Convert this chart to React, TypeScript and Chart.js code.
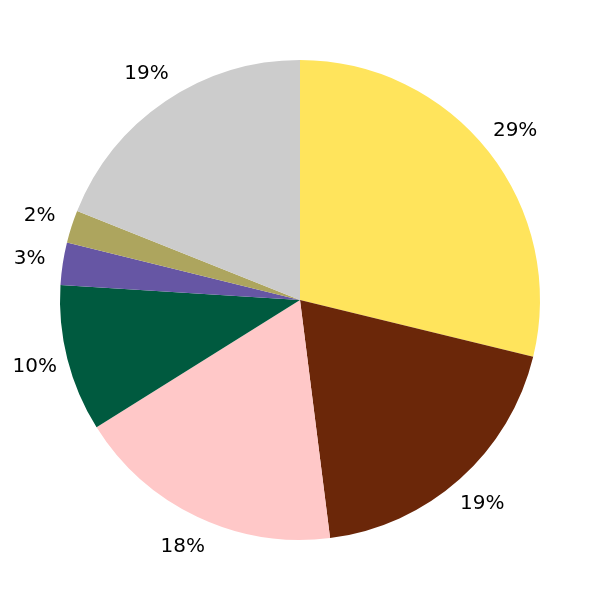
import React, { useEffect, useRef } from "react";
import { Chart, registerables } from "chart.js";

Chart.register(...registerables);

const categories = ["A", "B", "C", "D", "E", "F", "G"];
const values = [28.8, 19.2, 18.1, 9.9, 2.85, 2.2, 18.95];
const percentLabels = ["29%", "19%", "18%", "10%", "3%", "2%", "19%"];
const colors = ["#FFE45C", "#6B2709", "#FFC8C8", "#005A3F", "#6656A4", "#ADA55E", "#CCCCCC"];

const labelPlugin = {
  id: "outerLabels",
  afterDatasetsDraw(chart: any) {
    const ctx = chart.ctx;
    const meta = chart.getDatasetMeta(0);
    ctx.save();
    ctx.font = "20px 'DejaVu Sans'";
    ctx.fillStyle = "#000000";
    ctx.textAlign = "center";
    ctx.textBaseline = "middle";
    meta.data.forEach((arc: any, i: number) => {
      const mid = (arc.startAngle + arc.endAngle) / 2;
      const r = arc.outerRadius * 1.14;
      const x = arc.x + Math.cos(mid) * r;
      const y = arc.y + Math.sin(mid) * r;
      ctx.fillText(percentLabels[i], x, y);
    });
    ctx.restore();
  },
};

export default function App() {
  const ref = useRef<HTMLCanvasElement>(null);
  useEffect(() => {
    if (!ref.current) return;
    const chart = new Chart(ref.current, {
      type: "pie",
      data: {
        labels: categories,
        datasets: [
          {
            data: values,
            backgroundColor: colors,
            borderWidth: 0,
          },
        ],
      },
      options: {
        animation: false,
        responsive: false,
        layout: { padding: 60 },
        plugins: {
          legend: { display: false },
          tooltip: { enabled: false },
        },
      },
      plugins: [labelPlugin],
    });
    return () => chart.destroy();
  }, []);
  return (
    <div style={{ position: "absolute", left: 0, top: 0, width: 600, height: 600, background: "#fff" }}>
      <canvas ref={ref} width={600} height={600} style={{ width: 600, height: 600 }} />
    </div>
  );
}
